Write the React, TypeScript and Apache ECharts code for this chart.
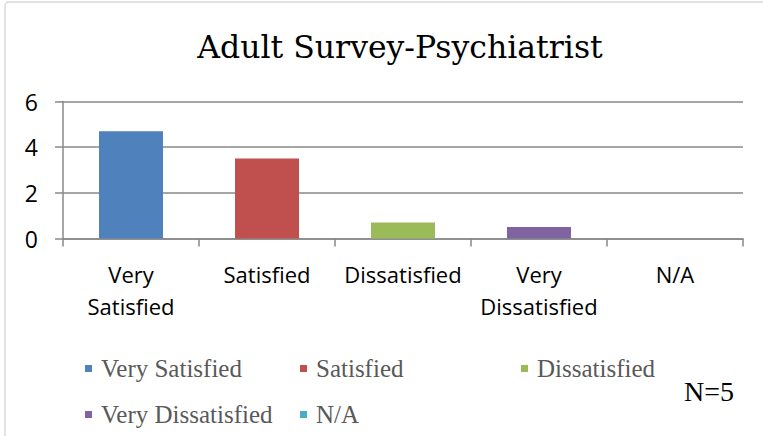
import React, { useEffect, useRef } from "react";
import * as echarts from "echarts";

const categories = ["Very\nSatisfied", "Satisfied", "Dissatisfied", "Very\nDissatisfied", "N/A"];
const seriesNames = ["Very Satisfied", "Satisfied", "Dissatisfied", "Very Dissatisfied", "N/A"];
const values = [4.7, 3.5, 0.7, 0.5, 0];
const colors = ["#4F81BD", "#C0504D", "#9BBB59", "#8064A2", "#4BACC6"];
const yTicks = [0, 2, 4, 6];

export default function App() {
  const ref = useRef<HTMLDivElement>(null);
  useEffect(() => {
    if (!ref.current) return;
    const chart = echarts.init(ref.current, undefined, { renderer: "svg" });
    const legendText = {
      fontFamily: "Liberation Serif",
      fontSize: 25,
      color: "#595959",
      lineHeight: 24,
      padding: [0, 0, 0, 4],
    };
    const legendBase = {
      orient: "vertical" as const,
      top: 356,
      padding: 0,
      itemGap: 21,
      itemWidth: 7,
      itemHeight: 7,
      icon: "rect",
      textStyle: legendText,
      selectedMode: false,
    };
    chart.setOption({
      animation: false,
      backgroundColor: "#fff",
      title: {
        text: "Adult Survey-Psychiatrist",
        left: 395,
        textAlign: "center",
        top: 26,
        textStyle: { fontFamily: "DejaVu Serif", fontWeight: "normal", fontSize: 31.5, color: "#000" },
      },
      graphic: [
        {
          type: "rect",
          shape: { x: 5, y: 2, width: 800, height: 500, r: 4 },
          style: { fill: "none", stroke: "#d9d9d9", lineWidth: 1.5 },
          silent: true,
        },
        {
          type: "text",
          left: 684,
          top: 377,
          style: { text: "N=5", fontFamily: "Liberation Serif", fontSize: 28, fill: "#000" },
        },
      ],
      legend: [
        { ...legendBase, left: 85, data: [seriesNames[0], seriesNames[3]] },
        { ...legendBase, left: 300, data: [seriesNames[1], seriesNames[4]] },
        { ...legendBase, left: 521, data: [seriesNames[2]] },
      ],
      grid: { left: 63, right: 20, top: 101.5, bottom: 197.5 },
      xAxis: {
        type: "category",
        data: categories,
        axisLine: { lineStyle: { color: "#888", width: 1.5 } },
        axisTick: { show: true, length: 8, lineStyle: { color: "#888", width: 1.5 } },
        axisLabel: {
          interval: 0,
          margin: 19,
          fontFamily: "Open Sans",
          fontSize: 22,
          lineHeight: 32,
          color: "#000",
        },
      },
      yAxis: {
        type: "value",
        min: 0,
        max: 6,
        interval: 2,
        axisLine: { show: true, lineStyle: { color: "#888", width: 1.5 } },
        axisTick: { show: true, length: 8, lineStyle: { color: "#888", width: 1.5 } },
        splitLine: { lineStyle: { color: "#888", width: 1.5 } },
        axisLabel: {
          margin: 25,
          fontFamily: "Open Sans",
          fontSize: 23,
          color: "#000",
          formatter: (v: number) => (yTicks.includes(v) ? String(v) : ""),
        },
      },
      series: seriesNames.map((name, i) => ({
        name,
        type: "bar",
        stack: "all",
        barWidth: 64,
        itemStyle: { color: colors[i] },
        data: values.map((v, j) => (j === i ? v : "-")),
      })),
    });
    return () => chart.dispose();
  }, []);
  return (
    <div
      ref={ref}
      style={{ position: "absolute", left: 0, top: 0, width: 763, height: 436 }}
    />
  );
}
